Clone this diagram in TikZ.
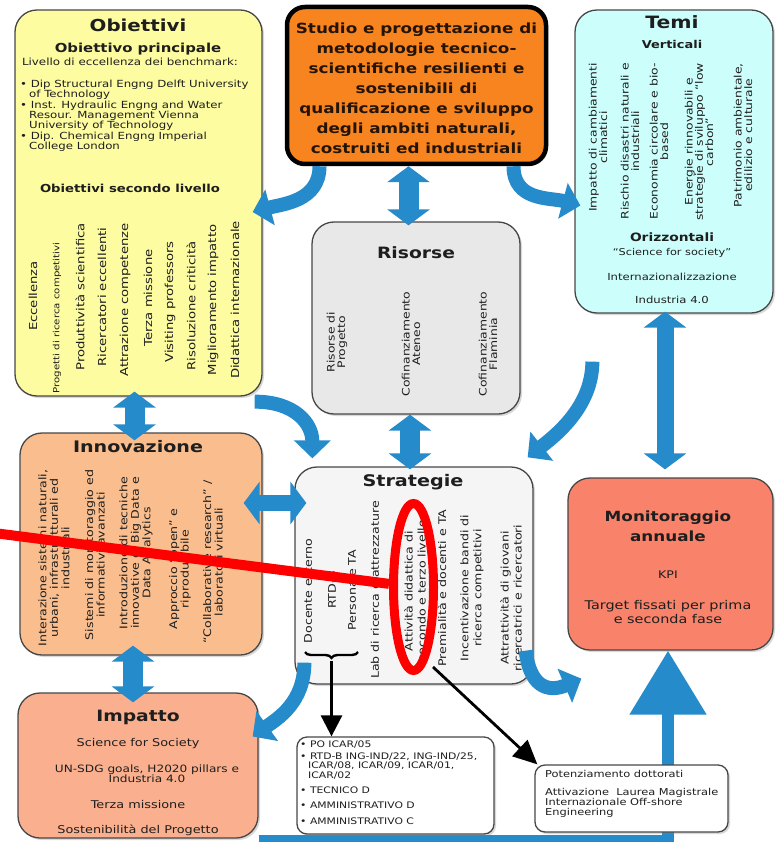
\documentclass[tikz,border=0pt]{standalone}
\usepackage{fontspec}
\setmainfont{DejaVu Sans}[FakeStretch=1.2]
\usetikzlibrary{arrows.meta,shadows,decorations.pathreplacing,calc,shapes.geometric}
\definecolor{cyel}{RGB}{253,252,160}
\definecolor{corange}{RGB}{248,132,32}
\definecolor{ccyan}{RGB}{204,255,252}
\definecolor{cgray}{RGB}{232,232,232}
\definecolor{cpeach}{RGB}{250,190,142}
\definecolor{cstrat}{RGB}{245,245,245}
\definecolor{cmonit}{RGB}{248,130,106}
\definecolor{cimp}{RGB}{250,176,142}
\definecolor{cblue}{RGB}{38,139,202}
\definecolor{ctext}{RGB}{30,30,30}
\newcommand{\fsz}[2]{\fontsize{#1}{#2}\selectfont}
\begin{document}
\begin{tikzpicture}[x=1pt,y=-1pt,
  box/.style={draw=black!72, line width=1.3pt, rounded corners=22pt,
    drop shadow={shadow xshift=2pt,shadow yshift=-2pt,opacity=0.3}},
  vt/.style={rotate=90, align=center, inner sep=0pt, text=ctext},
  txt/.style={inner sep=0pt, align=center, text=ctext},
  dbl/.style={draw=cblue, line width=20pt, arrows={Triangle[length=16pt,width=42pt]-Triangle[length=16pt,width=42pt]}},
  carr/.style={draw=cblue, line width=14pt, arrows={-Triangle[length=18pt,width=36pt]}},
  blk/.style={draw=black, line width=2.8pt, arrows={-Triangle[length=21pt,width=21pt]}},
]
\useasboundingbox (0,0) rectangle (778,842);
\fill[white] (0,0) rectangle (778,842);

% ---------- boxes ----------
\node[box, fill=cyel, minimum width=247pt, minimum height=386pt] (obj) at (138.5,203) {};
\node[box, fill=corange, draw=black, line width=4.5pt, rounded corners=18pt, minimum width=259pt, minimum height=157pt] (core) at (416.5,85.5) {};
\node[box, fill=ccyan, minimum width=198pt, minimum height=303pt] (temi) at (674,161.5) {};
\node[box, fill=cgray, minimum width=208pt, minimum height=192pt] (ris) at (416,318) {};
\node[box, fill=cpeach, minimum width=242pt, minimum height=222pt] (innov) at (141,544) {};
\node[box, fill=cstrat, minimum width=238pt, minimum height=217pt] (strat) at (414,575.5) {};
\node[box, fill=cmonit, minimum width=205pt, minimum height=172pt] (monit) at (670.5,564) {};
\node[box, fill=cimp, minimum width=240pt, minimum height=145pt] (imp) at (138,765.5) {};

% ---------- bottom feedback arrow (behind the lower boxes) ----------
\coordinate (corner) at (668,838.5);
\draw[draw=cblue, line width=7pt] (imp.south east |- corner) -- ([xshift=6pt]corner);
\draw[draw=cblue, line width=12pt, arrows={-Triangle[length=64pt,width=74pt]}] ([yshift=-3.5pt]corner) -- ([xshift=-2.5pt]monit.south);

\node[box, fill=white, rounded corners=10pt, minimum width=197pt, minimum height=97pt] (box1) at (395.5,785.5) {};
\node[box, fill=white, rounded corners=10pt, minimum width=193pt, minimum height=67pt] (box2) at (631.5,798.5) {};

% ---------- Obiettivi ----------
\node[txt, font=\bfseries\fsz{16.5}{18}] (o1) at (138,25) {Obiettivi};
\node[txt, font=\bfseries\fsz{12.4}{14}] (o2) at (138,49) {Obiettivo principale};
\node[txt, font=\fsz{9.9}{11}] (o3) at (130,62) {Livello di eccellenza dei benchmark:};
\node[txt, align=left, anchor=north west, font=\fsz{9.8}{10.3}] (o4) at (20,80) {• Dip Structural Engng Delft University\\\hspace*{9pt}of Technology\\• Inst. Hydraulic Engng and Water\\\hspace*{9pt}Resour. Management Vienna\\\hspace*{9pt}University of Technology\\• Dip. Chemical Engng Imperial\\\hspace*{9pt}College London};
\node[txt, font=\bfseries\fsz{11}{13}] (o5) at (130,188) {Obiettivi secondo livello};
\begin{scope}[every node/.style={vt, font=\fsz{11}{12}}]
\node (ov1) at (33,296) {Eccellenza};
\node[font=\fsz{8.5}{10}] (ov2) at (57,318) {Progetti di ricerca competitivi};
\node (ov3) at (80,297) {Produttività scientifica};
\node (ov4) at (102,297) {Ricercatori eccellenti};
\node (ov5) at (125,300) {Attrazione competenze};
\node (ov6) at (148,298) {Terza missione};
\node (ov7) at (170,302) {Visiting professors};
\node (ov8) at (191,306) {Risoluzione criticità};
\node (ov9) at (213,300) {Miglioramento impatto};
\node (ov10) at (235,300) {Didattica internazionale};
\end{scope}

% ---------- core ----------
\node[txt, font=\bfseries\fsz{14}{20}, text={rgb,255:red,35;green,20;blue,5}] (c1) at (416.5,88) {Studio e progettazione di\\metodologie tecnico-\\scientifiche resilienti e\\sostenibili di\\qualificazione e sviluppo\\degli ambiti naturali,\\costruiti ed industriali};

% ---------- Temi ----------
\node[txt, font=\bfseries\fsz{17}{19}] (t1) at (672,22) {Temi};
\node[txt, font=\bfseries\fsz{10.8}{12}] (t2) at (672,44) {Verticali};
\begin{scope}[every node/.style={vt, anchor=east, font=\fsz{10.3}{10.3}}]
\node (tv1) at (598,63) {Impatto di cambiamenti\\climatici};
\node (tv2) at (630,63) {Rischio disastri naturali e\\industriali};
\node (tv3) at (659,63) {Economia circolare e bio-\\based};
\node (tv4) at (699,63) {Energie rinnovabili e\\strategie di sviluppo “low\\carbon”};
\node (tv5) at (743,63) {Patrimonio ambientale,\\edilizio e culturale};
\end{scope}
\node[txt, font=\bfseries\fsz{11.5}{13}] (t3) at (672,237) {Orizzontali};
\node[txt, font=\fsz{9.4}{11}] (t4) at (672,253) {“Science for society”};
\node[txt, font=\fsz{9.7}{11}] (t5) at (672,277) {Internazionalizzazione};
\node[txt, font=\fsz{9.7}{11}] (t6) at (672,300) {Industria 4.0};

% ---------- Risorse ----------
\node[txt, font=\bfseries\fsz{15.6}{17}] (r1) at (416,253) {Risorse};
\begin{scope}[every node/.style={vt, font=\fsz{10.3}{10.5}}]
\node (rv1) at (337,342) {Risorse di\\Progetto};
\node (rv2) at (411,344) {Cofinanziamento\\Ateneo};
\node (rv3) at (488,344) {Cofinanziamento\\Flaminia};
\end{scope}

% ---------- Innovazione ----------
\node[txt, font=\bfseries\fsz{15.9}{17}] (i1) at (138,447) {Innovazione};
\begin{scope}[every node/.style={vt, font=\fsz{10.5}{11.5}}]
\node (iv1) at (54,558) {Interazione sistemi naturali,\\urbani, infrastrutturali ed\\industriali};
\node (iv2) at (95,555) {Sistemi di monitoraggio ed\\informativi avanzati};
\node (iv3) at (136,553) {Introduzione di tecniche\\innovative di Big Data e\\Data Analytics};
\node (iv4) at (180,569) {Approccio “open” e\\riproducibile};
\node (iv5) at (213,562) {“Collaborative research” /\\laboratori virtuali};
\end{scope}

% ---------- Strategie ----------
\node[txt, font=\bfseries\fsz{16}{18}] (s1) at (413,482) {Strategie};
\begin{scope}[every node/.style={vt, font=\fsz{10.5}{13}}]
\node (sv1) at (308,591) {Docente esterno};
\node (sv2) at (332,590) {RTD-B};
\node (sv3) at (352,590) {Personale TA};
\node (sv4) at (375,590) {Lab di ricerca e attrezzature};
\node (sv5) at (415,591) {Attività didattica di\\secondo e terzo livello};
\node (sv6) at (442,588) {Premialità e docenti e TA};
\node (sv7) at (472,588) {Incentivazione bandi di\\ricerca competitivi};
\node (sv8) at (511,598) {Attrattività di giovani\\ricercatrici e ricercatori};
\end{scope}

% ---------- Monitoraggio ----------
\node[txt, font=\bfseries\fsz{14}{20}] (m1) at (668,526) {Monitoraggio\\annuale};
\node[txt, font=\fsz{10.5}{12}] (m2) at (668,575) {KPI};
\node[txt, font=\fsz{12}{14.5}] (m3) at (668,612) {Target fissati per prima\\e seconda fase};

% ---------- Impatto ----------
\node[txt, font=\bfseries\fsz{15.6}{17}] (p1) at (138,717) {Impatto};
\node[txt, font=\fsz{10.7}{12}] (p2) at (138,744) {Science for Society};
\node[txt, font=\fsz{10.1}{10}] (p3) at (147,774) {UN-SDG goals, H2020 pillars e\\Industria 4.0};
\node[txt, font=\fsz{10.7}{12}] (p4) at (138,805) {Terza missione};
\node[txt, font=\fsz{10.7}{12}] (p5) at (138,830) {Sostenibilità del Progetto};

% ---------- lower boxes ----------
\node[txt, align=left, anchor=north west, font=\fsz{9}{9.3}] (b1t) at (300,741) {• PO ICAR/05\\[2.5pt]• RTD-B ING-IND/22, ING-IND/25,\\\hspace*{8pt}ICAR/08, ICAR/09, ICAR/01,\\\hspace*{8pt}ICAR/02\\[6pt]• TECNICO D\\[6pt]• AMMINISTRATIVO D\\[6pt]• AMMINISTRATIVO C};
\node[txt, align=left, anchor=north west, font=\fsz{9.5}{10}] (b2t) at (545,770) {Potenziamento dottorati\\[8pt]Attivazione\ \ Laurea Magistrale\\Internazionale Off-shore\\Engineering};

% ---------- blue double arrows ----------
\draw[dbl, shorten >=-4pt] ([xshift=-8pt]core.south) -- ([xshift=-8pt]core.south |- ris.north);
\draw[dbl, shorten >=-3pt] ([xshift=-6pt]ris.south) -- ([xshift=-6pt]ris.south |- strat.north);
\draw[dbl, shorten <=-5pt, shorten >=-8pt] ([xshift=-4pt]obj.south) -- ([xshift=-4pt]obj.south |- innov.north);
\draw[dbl, shorten <=-10pt, shorten >=-10pt] ([xshift=-8pt]innov.south) -- ([xshift=-8pt]innov.south |- imp.north);
\draw[dbl, line width=17pt, shorten <=-2pt, shorten >=8pt] ([xshift=-9pt]temi.south) -- ([xshift=-9pt]temi.south |- monit.north);
\draw[dbl, line width=16pt, shorten <=-19pt, shorten >=-12pt] ([yshift=41pt]innov.east) -- ([yshift=41pt]innov.east -| strat.west);

% ---------- blue curved arrows ----------
\draw[carr] ([xshift=-97pt]core.south) .. controls +(0,35) and +(30,-8) .. ([xshift=-10pt,yshift=-9pt]obj.east);
\draw[carr] ([xshift=97pt]core.south) .. controls +(0,35) and +(-30,-8) .. ([xshift=6pt,yshift=-44pt]temi.west);
\draw[carr] ([xshift=-8pt,yshift=-5pt]obj.south east) .. controls +(40,0) and +(0,-35) .. ([xshift=18pt,yshift=8pt]strat.north west);
\draw[carr] ([xshift=18pt,yshift=-48pt]temi.south west) .. controls +(0,45) and +(28,-22) .. ([xshift=-6pt,yshift=9pt]strat.north east);
\draw[carr] ([xshift=10pt,yshift=22pt]strat.south west) .. controls +(0,40) and +(25,-18) .. ([xshift=-6pt,yshift=29pt]imp.east);
\draw[carr] ([xshift=-8pt,yshift=34pt]strat.south east) .. controls +(5,42) and +(-28,12) .. ([xshift=14pt,yshift=-28pt]monit.south west);

% ---------- black brace and arrows ----------
\coordinate (bl) at (305,652);
\coordinate (br) at (358,652);
\draw[decorate, decoration={brace, mirror, amplitude=6pt}, line width=2.4pt] (bl) -- (br);
\coordinate (bt) at (331.5,661);
\draw[blk] (bt) -- (bt |- box1.north);
\coordinate (s2) at (433,667);
\draw[blk, arrows={-Triangle[length=24pt,width=22pt]}] (s2) -- ([xshift=3pt]box2.north west);

% ---------- red annotation ----------
\node[draw=red, line width=9pt, ellipse, minimum width=40pt, minimum height=167pt, inner sep=0pt] (ell) at (413.5,587) {};
\coordinate (r0) at (-6,533);
\draw[red, line width=10pt] (r0) -- (ell);
\end{tikzpicture}
\end{document}
